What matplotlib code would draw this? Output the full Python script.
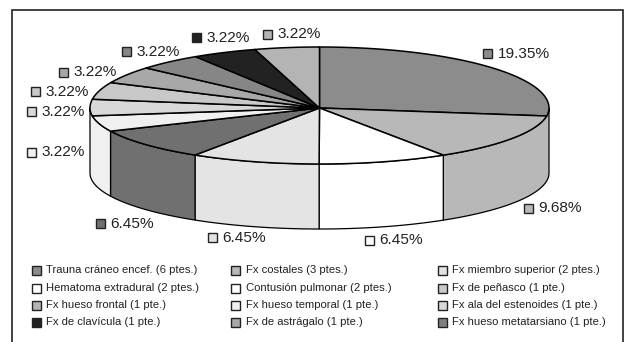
import numpy as np
import matplotlib
matplotlib.use("Agg")
import matplotlib.pyplot as plt
from matplotlib.patches import Polygon, Rectangle

plt.rcParams['font.family'] = ['Liberation Sans', 'DejaVu Sans']

# Slices in clockwise order from twelve o'clock
slice_pcts = [19.35, 9.68, 6.45, 6.45, 6.45, 3.22, 3.22, 3.22, 3.22, 3.22, 3.22, 3.22]
slice_labels = ['19.35%', '9.68%', '6.45%', '6.45%', '6.45%', '3.22%', '3.22%',
                '3.22%', '3.22%', '3.22%', '3.22%', '3.22%']
slice_greys = ['#8c8c8c', '#b8b8b8', '#ffffff', '#e4e4e4', '#707070', '#f0f0f0', '#d8d8d8',
               '#c8c8c8', '#a8a8a8', '#868686', '#222222', '#b4b4b4']
label_x = [487, 528, 369, 212, 100, 31, 31, 35, 63, 126, 196, 267]
label_y = [53, 208, 240, 237, 223, 152, 111, 91, 72, 51, 37, 34]

legend_names = ['Trauna cráneo encef. (6 ptes.)', 'Fx costales (3 ptes.)', 'Fx miembro superior (2 ptes.)',
                'Hematoma extradural (2 ptes.)', 'Contusión pulmonar (2 ptes.)', 'Fx de peñasco (1 pte.)',
                'Fx hueso frontal (1 pte.)', 'Fx hueso temporal (1 pte.)', 'Fx ala del estenoides (1 pte.)',
                'Fx de clavícula (1 pte.)', 'Fx de astrágalo (1 pte.)', 'Fx hueso metatarsiano (1 pte.)']
legend_greys = ['#8c8c8c', '#b8b8b8', '#e4e4e4', '#ffffff', '#ffffff', '#c8c8c8',
                '#b4b4b4', '#f0f0f0', '#d8d8d8', '#222222', '#a8a8a8', '#808080']

CX, CY, RX, RY_BACK, RY_FRONT, DEPTH = 319.5, 108.0, 229.5, 61.0, 56.0, 65.0
EDGE = '#000000'


def rim(theta):
    """Point on the top ellipse; theta in radians clockwise from twelve o'clock."""
    theta = np.asarray(theta)
    c = np.cos(theta)
    ry = np.where(c > 0, RY_BACK, RY_FRONT)
    return CX + RX * np.sin(theta), CY - ry * c


fig = plt.figure(figsize=(6.27, 3.42), dpi=100, facecolor='white')
ax = fig.add_axes([0, 0, 1, 1])
ax.set_xlim(0, 627)
ax.set_ylim(342, 0)
ax.axis('off')

ax.add_patch(Rectangle((11.5, 9.5), 611.5, 340, fc='white', ec='#222222', lw=1.2, zorder=0))

fractions = np.array(slice_pcts) / sum(slice_pcts)
edges = np.concatenate([[0], np.cumsum(fractions)]) * 2 * np.pi

# Side wall: slices that barely reach the front are absorbed by their neighbours
front = [(i, max(edges[i], np.pi / 2), min(edges[i + 1], 3 * np.pi / 2))
         for i in range(len(slice_greys))]
front = [f for f in front if f[2] - f[1] > 0.2]
front[0] = (front[0][0], np.pi / 2, front[0][2])
front[-1] = (front[-1][0], front[-1][1], 3 * np.pi / 2)
for i, a0, a1 in front:
    t = np.linspace(a0, a1, 80)
    x, y = rim(t)
    pts = np.r_[np.c_[x, y], np.c_[x[::-1], y[::-1] + DEPTH]]
    ax.add_patch(Polygon(pts, closed=True, fc=slice_greys[i], ec=EDGE, lw=0.9, zorder=2))

# Top face
for i, g in enumerate(slice_greys):
    t = np.linspace(edges[i], edges[i + 1], 80)
    x, y = rim(t)
    pts = np.r_[[[CX, CY]], np.c_[x, y]]
    ax.add_patch(Polygon(pts, closed=True, fc=g, ec=EDGE, lw=1.1, joinstyle='round', zorder=3))

# Value labels with their grey swatches
for txt, g, lx, ly in zip(slice_labels, slice_greys, label_x, label_y):
    ax.add_patch(Rectangle((lx - 4.5, ly - 4.5), 9, 9, fc=g, ec='#222222', lw=1.0, zorder=4))
    ax.text(lx + 10.5, ly + 0.5, txt, fontsize=11.1, color='#222222', va='center', ha='left', zorder=4)

# Key below the pie
col_x = [36, 235, 442]
row_y = [270, 288, 305, 322]
for k, (name, g) in enumerate(zip(legend_names, legend_greys)):
    r, c = divmod(k, 3)
    ax.add_patch(Rectangle((col_x[c] - 4.5, row_y[r] - 4.5), 9, 9, fc=g, ec='#222222', lw=1.0, zorder=4))
    ax.text(col_x[c] + 10.5, row_y[r] + 0.3, name, fontsize=8.1, color='#222222', va='center', ha='left', zorder=4)

fig.savefig('out.png', dpi=100, facecolor='white')
